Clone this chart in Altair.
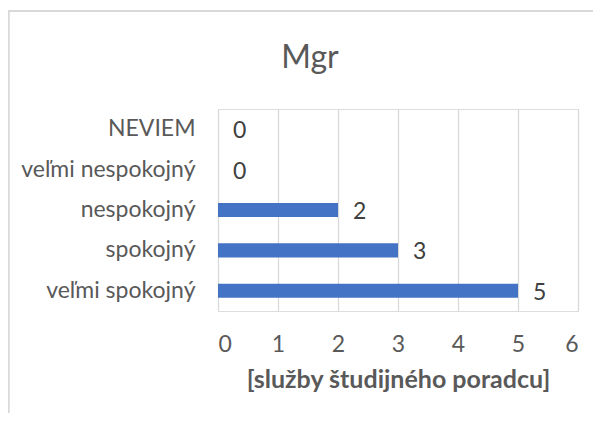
import altair as alt
import pandas as pd

categories = ["NEVIEM", "veľmi nespokojný", "nespokojný", "spokojný", "veľmi spokojný"]
values = [0, 0, 2, 3, 5]
x_ticks = [0, 1, 2, 3, 4, 5, 6]
title_text = "Mgr"
x_title = "[služby študijného poradcu]"

df = pd.DataFrame({"cat": categories, "val": values})

FONT = "Lato"
BAR = "#4472C4"

base = alt.Chart(df)

y_enc = alt.Y(
    "cat:N",
    sort=categories,
    title=None,
    scale=alt.Scale(paddingInner=0.65, paddingOuter=0.325),
    axis=alt.Axis(
        domain=False, ticks=False, grid=False,
        labelFont=FONT, labelFontSize=23, labelColor="#595959",
        labelPadding=23,
    ),
)

x_enc = alt.X(
    "val:Q",
    title=x_title,
    scale=alt.Scale(domain=[0, 6], nice=False),
    axis=alt.Axis(
        values=x_ticks, format="d", domain=False, ticks=False,
        grid=True, gridColor="#d9d9d9", gridWidth=1.3,
        labelFont=FONT, labelFontSize=23, labelColor="#595959",
        labelPadding=22,
        titleFont=FONT, titleFontSize=25, titleFontWeight="bold",
        titleColor="#595959", titlePadding=11,
    ),
)

bars = base.mark_bar(color=BAR).encode(x=x_enc, y=y_enc)

labels = base.mark_text(
    align="left", baseline="middle", dx=15, dy=2,
    font=FONT, fontSize=23, color="#404040",
).encode(x="val:Q", y=alt.Y("cat:N", sort=categories), text="val:Q")

border_left = base.mark_rule(color="#d9d9d9", strokeWidth=1.5).encode(
    x=alt.value(-209.5), y=alt.value(-98), y2=alt.value(320)
)
border_top = base.mark_rule(color="#d9d9d9", strokeWidth=1.5).encode(
    x=alt.value(-209.5), x2=alt.value(400), y=alt.value(-98)
)

chart = alt.layer(border_left, border_top, bars, labels).properties(
    width=360,
    height=202,
    padding={"left": 210, "top": 101, "right": 15, "bottom": 102},
    autosize="none",
    title=alt.TitleParams(
        title_text, font=FONT, fontSize=32, fontWeight="normal",
        color="#595959", anchor="middle", frame="group",
        dx=-88, offset=-65,
    ),
).configure_view(stroke=None).configure(background="white")

chart.save("out.html", embed_options={"renderer": "svg", "actions": False})
